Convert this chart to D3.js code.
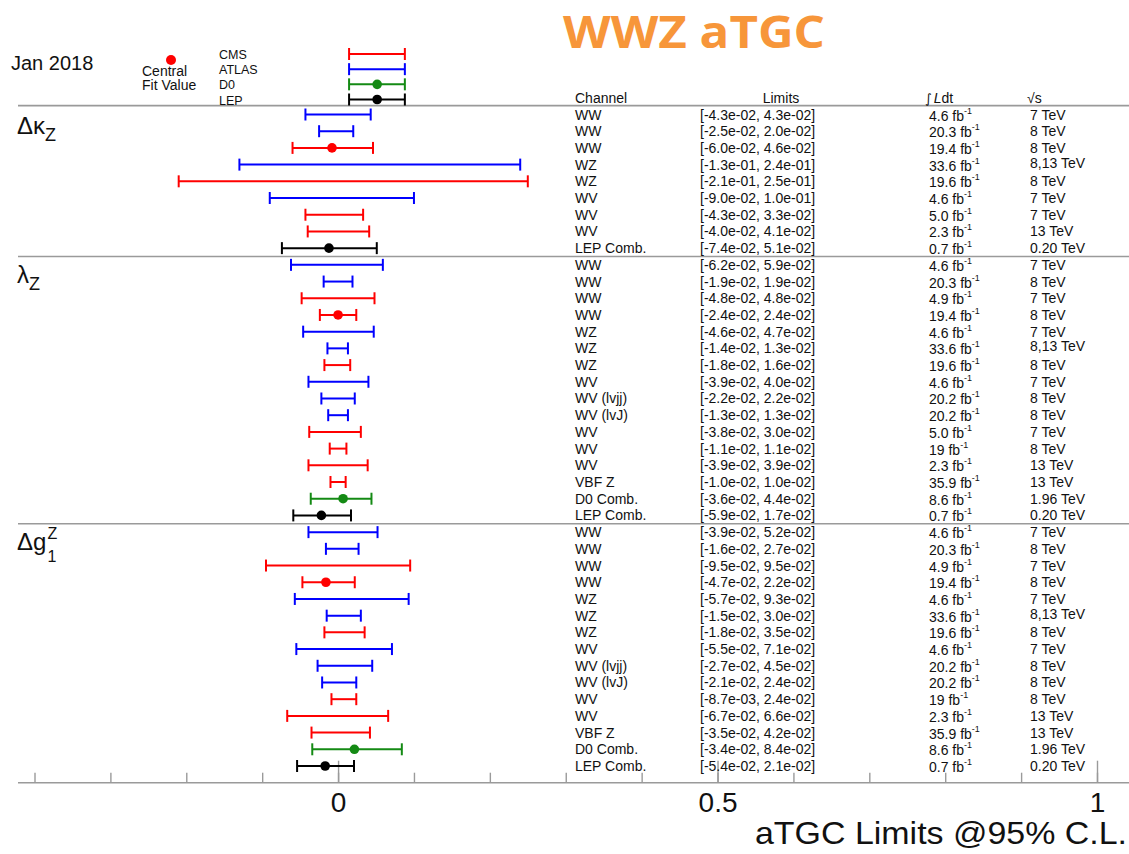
<!DOCTYPE html>
<html>
<head>
<meta charset="utf-8">
<script src="https://cdn.jsdelivr.net/npm/d3@7"></script>
<style>
  body { margin: 0; background: #fff; }
  svg { display: block; font-family: "Liberation Sans", Arial, sans-serif; }
</style>
</head>
<body>
<svg id="chart" width="1129" height="854"></svg>
<script>
const groupSizes = [9, 16, 15];

const channels = [
  'WW', 'WW', 'WW', 'WZ', 'WZ', 'WV', 'WV', 'WV', 'LEP Comb.',
  'WW', 'WW', 'WW', 'WW', 'WZ', 'WZ', 'WZ', 'WV', 'WV (lvjj)', 'WV (lvJ)', 'WV', 'WV', 'WV', 'VBF Z', 'D0 Comb.', 'LEP Comb.',
  'WW', 'WW', 'WW', 'WW', 'WZ', 'WZ', 'WZ', 'WV', 'WV (lvjj)', 'WV (lvJ)', 'WV', 'WV', 'VBF Z', 'D0 Comb.', 'LEP Comb.',
];
const experiments = [
  'ATLAS', 'ATLAS', 'CMS', 'ATLAS', 'CMS', 'ATLAS', 'CMS', 'CMS', 'LEP',
  'ATLAS', 'ATLAS', 'CMS', 'CMS', 'ATLAS', 'ATLAS', 'CMS', 'ATLAS', 'ATLAS', 'ATLAS', 'CMS', 'CMS', 'CMS', 'CMS', 'D0', 'LEP',
  'ATLAS', 'ATLAS', 'CMS', 'CMS', 'ATLAS', 'ATLAS', 'CMS', 'ATLAS', 'ATLAS', 'ATLAS', 'CMS', 'CMS', 'CMS', 'D0', 'LEP',
];
const lows = [
  -0.043, -0.025, -0.060, -0.13, -0.21, -0.090, -0.043, -0.040, -0.074,
  -0.062, -0.019, -0.048, -0.024, -0.046, -0.014, -0.018, -0.039, -0.022, -0.013, -0.038, -0.011, -0.039, -0.010, -0.036, -0.059,
  -0.039, -0.016, -0.095, -0.047, -0.057, -0.015, -0.018, -0.055, -0.027, -0.021, -0.0087, -0.067, -0.035, -0.034, -0.054,
];
const highs = [
  0.043, 0.020, 0.046, 0.24, 0.25, 0.10, 0.033, 0.041, 0.051,
  0.059, 0.019, 0.048, 0.024, 0.047, 0.013, 0.016, 0.040, 0.022, 0.013, 0.030, 0.011, 0.039, 0.010, 0.044, 0.017,
  0.052, 0.027, 0.095, 0.022, 0.093, 0.030, 0.035, 0.071, 0.045, 0.024, 0.024, 0.066, 0.042, 0.084, 0.021,
];
// central fit values, null where none is shown
const centrals = [
  null, null, -0.008, null, null, null, null, null, -0.012,
  null, null, null, 0.0, null, null, null, null, null, null, null, null, null, null, 0.0066, -0.022,
  null, null, null, -0.016, null, null, null, null, null, null, null, null, null, 0.0215, -0.017,
];
const lumis = [
  '4.6', '20.3', '19.4', '33.6', '19.6', '4.6', '5.0', '2.3', '0.7',
  '4.6', '20.3', '4.9', '19.4', '4.6', '33.6', '19.6', '4.6', '20.2', '20.2', '5.0', '19', '2.3', '35.9', '8.6', '0.7',
  '4.6', '20.3', '4.9', '19.4', '4.6', '33.6', '19.6', '4.6', '20.2', '20.2', '19', '2.3', '35.9', '8.6', '0.7',
];
const energies = [
  '7 TeV', '8 TeV', '8 TeV', '8,13 TeV', '8 TeV', '7 TeV', '7 TeV', '13 TeV', '0.20 TeV',
  '7 TeV', '8 TeV', '7 TeV', '8 TeV', '7 TeV', '8,13 TeV', '8 TeV', '7 TeV', '8 TeV', '8 TeV', '7 TeV', '8 TeV', '13 TeV', '13 TeV', '1.96 TeV', '0.20 TeV',
  '7 TeV', '8 TeV', '7 TeV', '8 TeV', '7 TeV', '8,13 TeV', '8 TeV', '7 TeV', '8 TeV', '8 TeV', '8 TeV', '13 TeV', '13 TeV', '1.96 TeV', '0.20 TeV',
];

const legendNames = ['CMS', 'ATLAS', 'D0', 'LEP'];
const legendRange = [0.0145, 0.088];
const legendCentrals = [null, null, 0.0515, 0.0515];

const majorTicks = [0, 0.5, 1];
const minorTicks = d3.range(-4, 11).map((d) => d / 10);

const colorOf = { CMS: '#ff0000', ATLAS: '#0000ff', D0: '#148a14', LEP: '#000000' };
const lineColor = '#9a9a9a';
const textColor = '#111';

const svg = d3.select('#chart');
const x = d3.scaleLinear().domain([-0.4, 1]).range([34.5, 1097]);
const y = d3.scaleLinear().domain([0, channels.length - 1]).range([114.5, 766]);
const step = y(1) - y(0);
const legendY = d3.scaleLinear().domain([0, legendNames.length - 1]).range([54, 99.5]);

function fmtExp(v) {
  return v.toExponential(1).replace(/e([+-])(\d)$/, 'e$10$2');
}

const rows = channels.map((c, i) => ({
  channel: c,
  exp: experiments[i],
  lo: lows[i],
  hi: highs[i],
  central: centrals[i],
  lumi: lumis[i],
  energy: energies[i],
  i,
}));

let start = 0;
const groupStarts = groupSizes.map((n) => {
  const s = start;
  start += n;
  return s;
});

function drawBar(g, y0, lo, hi, central, color) {
  g.append('line').attr('x1', x(lo)).attr('x2', x(hi)).attr('y1', y0).attr('y2', y0)
    .attr('stroke', color).attr('stroke-width', 2);
  [lo, hi].forEach((v) => {
    g.append('line').attr('x1', x(v)).attr('x2', x(v)).attr('y1', y0 - 6).attr('y2', y0 + 6)
      .attr('stroke', color).attr('stroke-width', 2);
  });
  if (central !== null) {
    g.append('circle').attr('cx', x(central)).attr('cy', y0).attr('r', 4.8).attr('fill', color);
  }
}

// horizontal separators and axis line
const sepYs = [y(0) - step / 2 - 0.5]
  .concat(groupStarts.slice(1).map((s) => (y(s - 1) + y(s)) / 2));
const axisY = y(channels.length - 1) + step;

svg.selectAll('line.sep').data(sepYs.concat([axisY])).enter().append('line')
  .attr('class', 'sep')
  .attr('x1', 18).attr('x2', 1129)
  .attr('y1', (d) => d).attr('y2', (d) => d)
  .attr('stroke', lineColor).attr('stroke-width', 1.6);

// axes: minor and major ticks pointing up
const minorAxis = d3.axisBottom(x).tickValues(minorTicks).tickSize(-10).tickFormat('');
const majorAxis = d3.axisBottom(x).tickValues(majorTicks).tickSize(-22).tickPadding(9)
  .tickFormat(d3.format('~g'));

svg.append('g').attr('transform', `translate(0,${axisY})`).call(minorAxis)
  .call((g) => g.select('.domain').remove())
  .call((g) => g.selectAll('line').attr('stroke', lineColor).attr('stroke-width', 1.4));
svg.append('g').attr('transform', `translate(0,${axisY})`).call(majorAxis)
  .call((g) => g.select('.domain').remove())
  .call((g) => g.selectAll('line').attr('stroke', lineColor).attr('stroke-width', 1.4))
  .call((g) => g.selectAll('text').attr('font-size', 28).attr('fill', textColor)
    .attr('font-family', '"Liberation Sans", Arial, sans-serif'));

svg.append('text').attr('x', 1127).attr('y', 844).attr('text-anchor', 'end')
  .attr('font-size', 32).attr('textLength', 372).attr('lengthAdjust', 'spacingAndGlyphs')
  .attr('fill', textColor).text('aTGC Limits @95% C.L.');

// title
svg.append('text').attr('x', 694).attr('y', 48).attr('text-anchor', 'middle')
  .attr('font-family', '"Open Sans", sans-serif').attr('font-weight', 700)
  .attr('font-size', 45).attr('textLength', 262).attr('lengthAdjust', 'spacingAndGlyphs')
  .attr('fill', '#f7963a').text('WWZ aTGC');

svg.append('text').attr('x', 11).attr('y', 70).attr('font-size', 20).attr('fill', textColor).text('Jan 2018');

// legend
svg.append('circle').attr('cx', 171).attr('cy', 60).attr('r', 5).attr('fill', colorOf.CMS);
svg.append('text').attr('x', 142).attr('y', 76).attr('font-size', 14).attr('fill', textColor).text('Central');
svg.append('text').attr('x', 142).attr('y', 89.5).attr('font-size', 14).attr('fill', textColor).text('Fit Value');

const legend = svg.append('g');
legendNames.forEach((name, i) => {
  drawBar(legend, legendY(i), legendRange[0], legendRange[1], legendCentrals[i], colorOf[name]);
  legend.append('text').attr('x', 219).attr('y', legendY(i) + 5).attr('font-size', 12.5)
    .attr('fill', textColor).text(name);
});

// column headers
const headY = 103;
const head = svg.append('g').attr('font-size', 14).attr('fill', textColor);
head.append('text').attr('x', 575).attr('y', headY).text('Channel');
head.append('text').attr('x', 781).attr('y', headY).attr('text-anchor', 'middle').text('Limits');
const lumiHead = head.append('text').attr('x', 925).attr('y', headY);
lumiHead.append('tspan').attr('font-family', '"DejaVu Sans", sans-serif').attr('font-size', 13).text('∫');
lumiHead.append('tspan').attr('font-style', 'italic').attr('dx', 2).text('L');
lumiHead.append('tspan').text('dt');
head.append('text').attr('x', 1027).attr('y', headY).text('√s');

// group labels
const glabels = svg.append('g').attr('fill', textColor).attr('font-family', '"Liberation Sans", "DejaVu Sans", sans-serif');
const kz = glabels.append('text').attr('x', 17).attr('y', y(groupStarts[0]) + 19).attr('font-size', 24);
kz.append('tspan').text('Δκ');
kz.append('tspan').attr('font-size', 18).attr('dy', 7).text('Z');
const lz = glabels.append('text').attr('x', 17).attr('y', y(groupStarts[1]) + 18).attr('font-size', 24);
lz.append('tspan').text('λ');
lz.append('tspan').attr('font-size', 18).attr('dy', 7).text('Z');
const gz = glabels.append('text').attr('x', 17).attr('y', y(groupStarts[2]) + 18).attr('font-size', 24).text('Δg');
const gzEnd = 17 + gz.node().getComputedTextLength() + 1;
glabels.append('text').attr('x', gzEnd).attr('y', y(groupStarts[2]) + 7).attr('font-size', 16).text('Z');
glabels.append('text').attr('x', gzEnd).attr('y', y(groupStarts[2]) + 30).attr('font-size', 16).text('1');

// error bars
const bars = svg.append('g');
rows.forEach((r) => drawBar(bars, y(r.i), r.lo, r.hi, r.central, colorOf[r.exp]));

// table
const table = svg.append('g').attr('font-size', 14).attr('fill', textColor);
rows.forEach((r) => {
  const ty = y(r.i) + 5;
  table.append('text').attr('x', 575).attr('y', ty).text(r.channel);
  table.append('text').attr('x', 700).attr('y', ty).text(`[${fmtExp(r.lo)}, ${fmtExp(r.hi)}]`);
  const lt = table.append('text').attr('x', 929).attr('y', ty + 1);
  lt.append('tspan').text(`${r.lumi} fb`);
  lt.append('tspan').attr('font-size', 9).attr('dy', -7).text('-1');
  table.append('text').attr('x', 1030).attr('y', r.energy.includes(',') ? ty - 2 : ty).text(r.energy);
});
</script>
</body>
</html>
